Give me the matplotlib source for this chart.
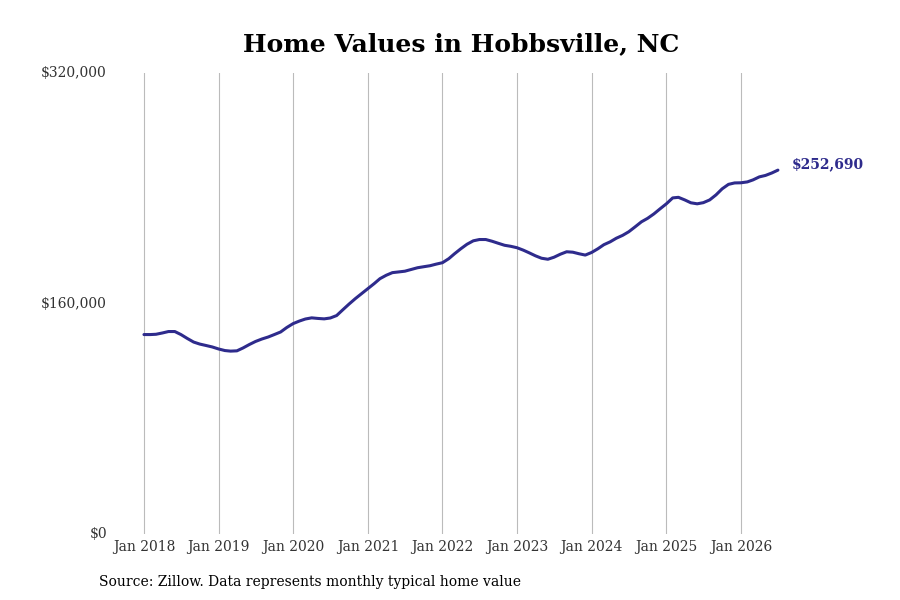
import matplotlib
matplotlib.use("Agg")
import matplotlib.pyplot as plt
import matplotlib.ticker as mticker
import pandas as pd

plt.rcParams['font.family'] = ['DejaVu Serif']

start_month = "2018-01-01"
values = [
    138500, 138500, 138700, 139600, 140600, 140600, 138500, 135800, 133300, 131900,
    130900, 129900, 128500, 127400, 127000, 127200, 129200, 131600, 133700, 135400,
    136800, 138500, 140300, 143400, 146100, 147900, 149300, 150100, 149700, 149400,
    150000, 151700, 155800, 159700, 163500, 166900, 170400, 173900, 177300, 179700,
    181500, 182000, 182500, 183700, 184900, 185600, 186300, 187400, 188400, 191200,
    194600, 198100, 201200, 203600, 204500, 204500, 203300, 201900, 200500, 199800,
    198800, 197100, 195300, 193200, 191500, 190800, 192200, 194300, 196000, 195700,
    194600, 193700, 195500, 198100, 200900, 202900, 205400, 207400, 209900, 213300,
    216800, 219200, 222300, 225800, 229300, 233400, 233800, 232000, 230000, 229300,
    230100, 232000, 235500, 239700, 242800, 243800, 243900, 244500, 245900, 248000,
    249000, 250700, 252690,
]
dates = pd.date_range(start_month, periods=len(values), freq="MS")
y_ticks = [0, 160000, 320000]
x_tick_years = list(range(2018, 2027))
title = "Home Values in Hobbsville, NC"
source = "Source: Zillow. Data represents monthly typical home value"
line_color = "#2e2b8c"

fig = plt.figure(figsize=(9, 6), dpi=100)
ax = fig.add_axes([0.125, 0.11, 0.77, 0.768])
ax.plot(dates, values, color=line_color, linewidth=2.2, solid_capstyle="round")

ax.set_ylim(0, 320000)
ax.set_xlim(pd.Timestamp("2017-07-31"), pd.Timestamp("2026-11-13"))
ax.set_yticks(y_ticks)
ax.yaxis.set_major_formatter(mticker.FuncFormatter(lambda v, p: f"${v:,.0f}"))
xt = [pd.Timestamp(f"{yr}-01-01") for yr in x_tick_years]
ax.set_xticks(xt)
ax.set_xticklabels([f"Jan {yr}" for yr in x_tick_years])
ax.tick_params(axis="both", length=0, labelsize=10, colors="#333333")
ax.tick_params(axis="x", pad=4)
ax.tick_params(axis="y", pad=4)
for lab in ax.get_yticklabels():
    lab.set_verticalalignment("center")
ax.grid(axis="x", color="#bbbbbb", linewidth=0.8)
ax.grid(axis="y", visible=False)
for s in ax.spines.values():
    s.set_visible(False)

ax.annotate(f"${values[-1]:,.0f}", xy=(dates[-1], values[-1]), xytext=(10, 4),
            textcoords="offset points", color=line_color, fontsize=10,
            fontweight="bold", va="center", ha="left")

fig.text(0.512, 0.927, title, ha="center", va="center", fontsize=18, fontweight="bold")
fig.text(0.11, 0.03, source, ha="left", va="center", fontsize=10, color="black")

fig.savefig("out.png", dpi=100)
